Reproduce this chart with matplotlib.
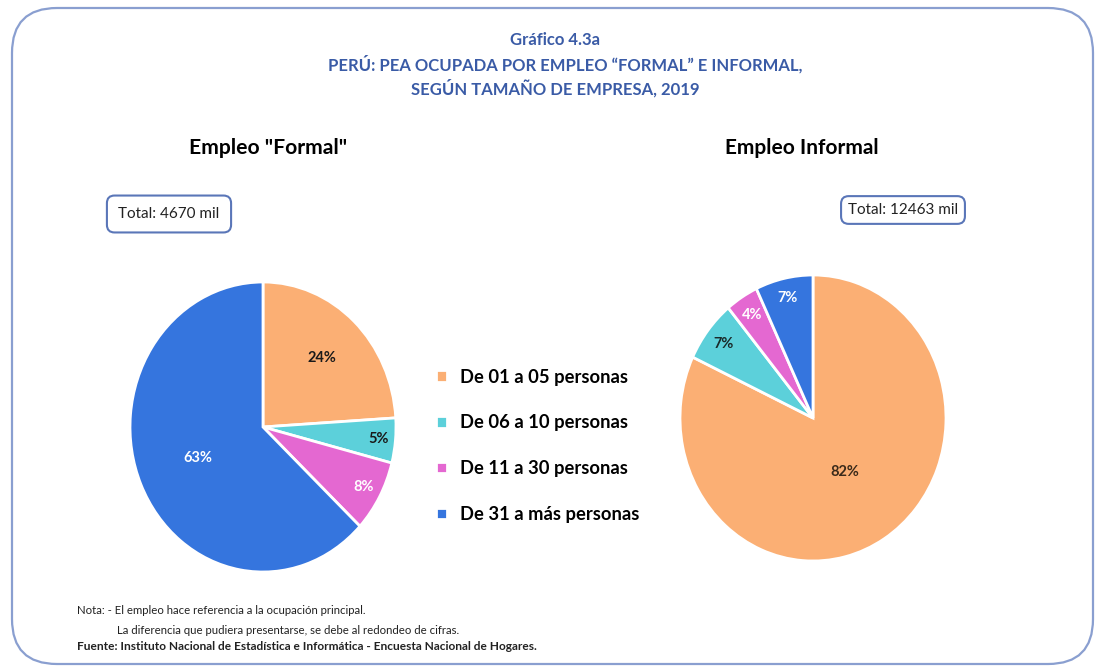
import matplotlib
matplotlib.use("Agg")
import matplotlib.pyplot as plt
from matplotlib.patches import FancyBboxPatch
import numpy as np

plt.rcParams['font.family'] = ['Lato', 'DejaVu Sans']

categories = ["De 01 a 05 personas", "De 06 a 10 personas",
              "De 11 a 30 personas", "De 31 a más personas"]
formal_pct = [24, 5, 8, 63]
informal_pct = [82, 7, 4, 7]
formal_total = 4670
informal_total = 12463
colors = ["#FBAF74", "#5CD0DA", "#E468D1", "#3575DE"]
formal_lblcol = ["#1a1a1a", "#1a1a1a", "white", "white"]
informal_lblcol = ["#3a2a1a", "#1a2a2a", "white", "white"]
formal_dist = [0.65, 0.87, 0.86, 0.53]
informal_dist = [0.45, 0.85, 0.85, 0.86]

W, H = 1099, 667
fig = plt.figure(figsize=(W / 100, H / 100), dpi=100)
bg = fig.add_axes([0, 0, 1, 1])
bg.set_xlim(0, W)
bg.set_ylim(H, 0)
bg.axis("off")

# rounded border
bg.add_patch(FancyBboxPatch((12, 8), 1081, 656,
                            boxstyle="round,pad=0,rounding_size=45",
                            fc="white", ec="#8A9FD0", lw=1.6))

title_col = "#3A5BA6"
bg.text(555, 40, "Gráfico 4.3a", ha="center", va="center",
        fontsize=12, fontweight="bold", color=title_col)
bg.text(565, 64, "PERÚ: PEA OCUPADA POR EMPLEO “FORMAL” E INFORMAL,",
        ha="center", va="center", fontsize=12, fontweight="bold", color=title_col)
bg.text(555, 88, "SEGÚN TAMAÑO DE EMPRESA, 2019", ha="center", va="center",
        fontsize=12, fontweight="bold", color=title_col)

bg.text(268, 148, 'Empleo "Formal"', ha="center", va="center",
        fontsize=15.2, fontweight="bold", color="black")
bg.text(802, 148, "Empleo Informal", ha="center", va="center",
        fontsize=15, fontweight="bold", color="black")

bg.text(169, 214, f"Total: {formal_total} mil", ha="center", va="center",
        fontsize=11, color="#222222",
        bbox=dict(boxstyle="round,pad=0.75,rounding_size=0.5", fc="white",
                  ec="#5A76B8", lw=1.5))
bg.text(903, 210, f"Total: {informal_total} mil", ha="center", va="center",
        fontsize=11, color="#222222",
        bbox=dict(boxstyle="round,pad=0.45,rounding_size=0.5", fc="white",
                  ec="#5A76B8", lw=1.5))


def pie_axes(cx, cy, rx, ry):
    return fig.add_axes([(cx - rx) / W, (H - cy - ry) / H, 2 * rx / W, 2 * ry / H])


def draw_pie(ax, vals, dists, lblcols):
    wedges, _ = ax.pie(vals, colors=colors, startangle=90, counterclock=False,
                       wedgeprops=dict(edgecolor="white", linewidth=2))
    ax.set_aspect("auto")
    ax.set_xlim(-1, 1)
    ax.set_ylim(-1, 1)
    ax.axis("off")
    for w, v, d, c in zip(wedges, vals, dists, lblcols):
        mid = np.deg2rad((w.theta1 + w.theta2) / 2)
        ax.text(d * np.cos(mid), d * np.sin(mid), f"{v}%", ha="center",
                va="center", fontsize=10.5, fontweight="bold", color=c)
    return wedges


ax1 = pie_axes(263, 427, 133, 145)
wedges = draw_pie(ax1, formal_pct, formal_dist, formal_lblcol)
ax2 = pie_axes(813, 418, 133, 143)
draw_pie(ax2, informal_pct, informal_dist, informal_lblcol)

fig.legend(wedges, categories, loc="upper left",
           bbox_to_anchor=(419 / W, 1 - 352 / H), frameon=False,
           prop=dict(size=13.2, weight="bold"), handlelength=0.6,
           handleheight=0.6, handletextpad=0.75, labelspacing=1.57)

bg.text(77, 610, "Nota: - El empleo hace referencia a la ocupación principal.",
        ha="left", va="center", fontsize=8.2, color="#222222")
bg.text(117, 630, "La diferencia que pudiera presentarse, se debe al redondeo de cifras.",
        ha="left", va="center", fontsize=8.2, color="#222222")
bg.text(77, 646, "Fuente: Instituto Nacional de Estadística e Informática - Encuesta Nacional de Hogares.",
        ha="left", va="center", fontsize=8.6, fontweight="bold", color="#222222")

fig.savefig("out.png", dpi=100)
